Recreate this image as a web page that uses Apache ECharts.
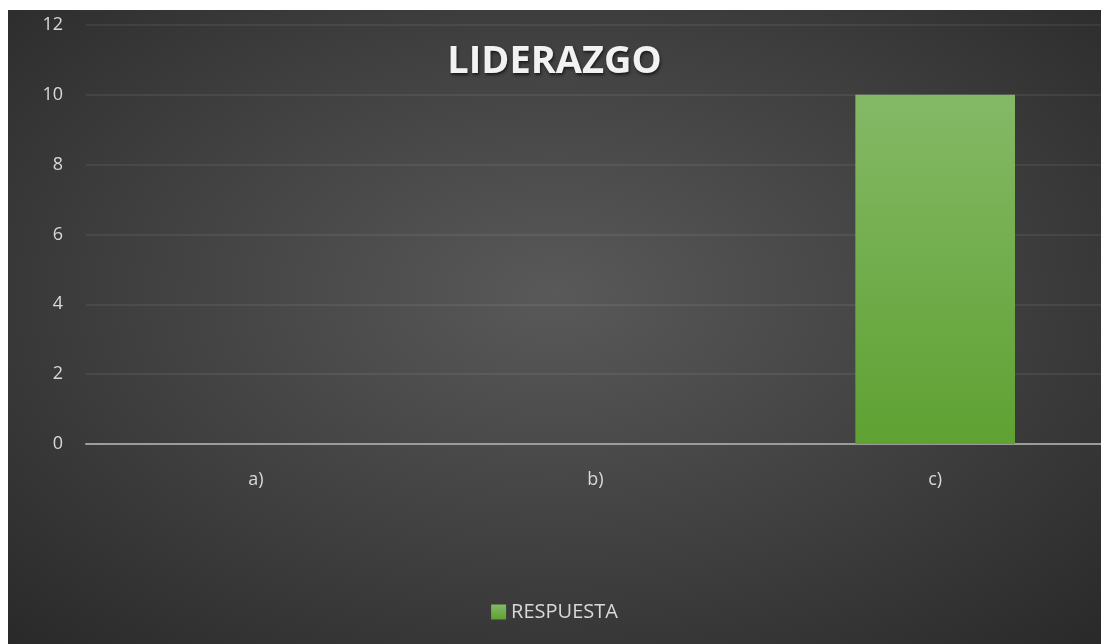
<!DOCTYPE html>
<html>
<head>
<meta charset="utf-8">
<script src="https://cdn.jsdelivr.net/npm/echarts@6/dist/echarts.min.js"></script>
<style>
  html, body { margin: 0; padding: 0; background: #fff; }
  #chart {
    position: absolute;
    left: 8px;
    top: 10px;
    width: 1093px;
    height: 634px;
    background: radial-gradient(ellipse 75% 80% at 50% 45%, #595959 0%, #3e3e3e 55%, #272727 100%);
  }
</style>
</head>
<body>
<div id="chart"></div>
<script>
// data
const categories = ['a)', 'b)', 'c)']
const respuesta = [0, 0, 10]
const seriesName = 'RESPUESTA'
const titleText = 'LIDERAZGO'

const chart = echarts.init(document.getElementById('chart'))

chart.setOption({
  backgroundColor: 'transparent',
  title: {
    text: titleText,
    left: 'center',
    top: 28,
    textStyle: {
      fontFamily: 'Open Sans',
      fontWeight: 'bold',
      fontSize: 38,
      color: '#f2f2f2',
      textShadowColor: 'rgba(0,0,0,0.6)',
      textShadowBlur: 3,
      textShadowOffsetX: 1,
      textShadowOffsetY: 2
    }
  },
  legend: {
    data: [seriesName],
    bottom: 17,
    left: 'center',
    icon: 'rect',
    itemWidth: 15,
    itemHeight: 15,
    itemGap: 6,
    textStyle: {
      fontFamily: 'Open Sans',
      fontSize: 20,
      color: '#d9d9d9'
    }
  },
  grid: {
    left: 78,
    top: 15,
    width: 1019,
    height: 419,
    outerBoundsMode: 'none',
    containLabel: false
  },
  xAxis: {
    type: 'category',
    data: categories,
    axisTick: { show: false },
    axisLine: { lineStyle: { color: '#9c9c9c', width: 2 } },
    axisLabel: {
      margin: 27,
      fontFamily: 'Open Sans',
      fontSize: 18,
      color: '#d9d9d9'
    }
  },
  yAxis: {
    type: 'value',
    min: 0,
    max: 12,
    interval: 2,
    axisLine: { show: false },
    axisTick: { show: false },
    axisLabel: {
      margin: 23,
      fontFamily: 'Open Sans',
      fontSize: 18,
      color: '#d9d9d9'
    },
    splitLine: { lineStyle: { color: 'rgba(255,255,255,0.09)', width: 1.5 } }
  },
  series: [{
    name: seriesName,
    type: 'bar',
    data: respuesta,
    barWidth: '47%',
    itemStyle: {
      color: new echarts.graphic.LinearGradient(0, 0, 0, 1, [
        { offset: 0, color: '#84b966' },
        { offset: 1, color: '#5fa132' }
      ]),
      shadowColor: 'rgba(0,0,0,0.45)',
      shadowBlur: 8
    }
  }]
})
</script>
</body>
</html>
